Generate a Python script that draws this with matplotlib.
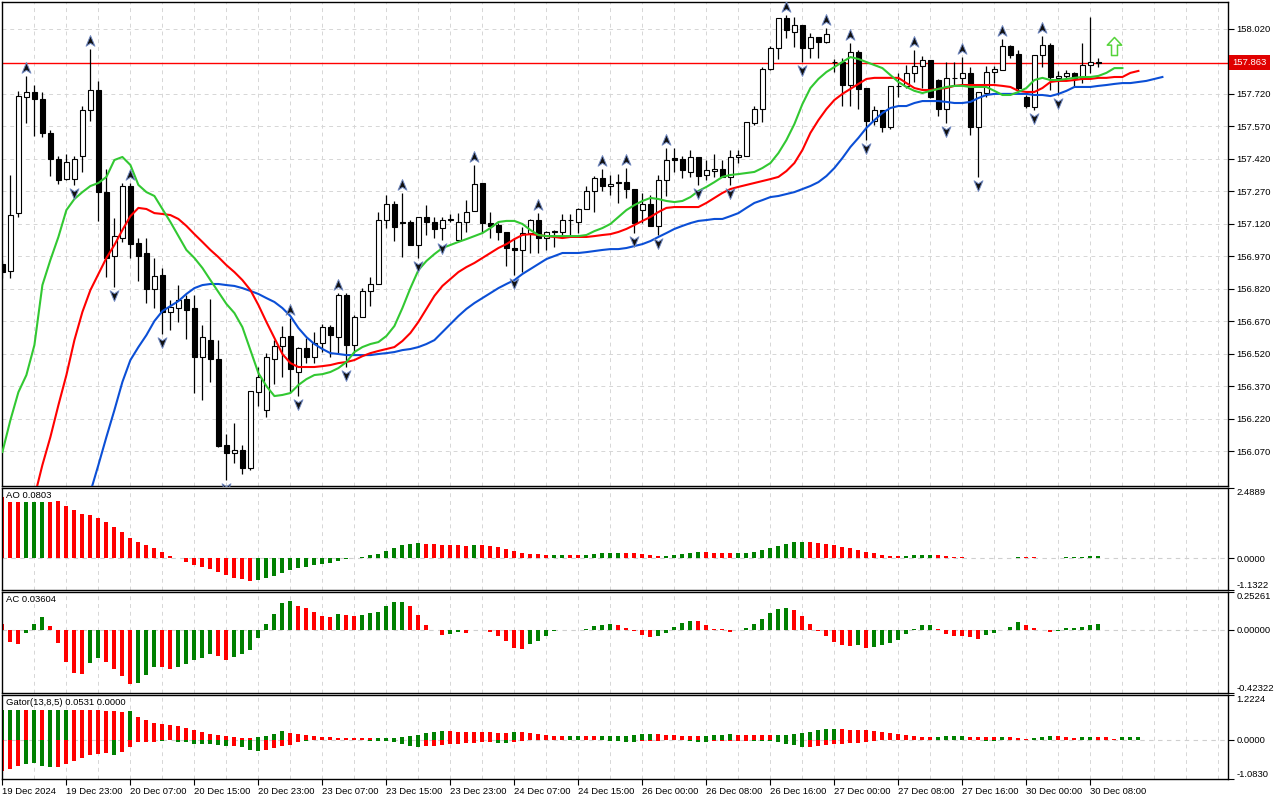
import numpy as np
import matplotlib
matplotlib.use("Agg")
import matplotlib.pyplot as plt
from matplotlib.path import Path
from matplotlib.transforms import blended_transform_factory

plt.rcParams['font.family'] = ['Liberation Sans', 'DejaVu Sans']

# ---------------- data (USDJPY H1) ----------------
opens = [156.934, 156.902, 157.169, 157.705, 157.728, 157.696, 157.539, 157.419, 157.326, 157.326,
         157.433, 157.645, 157.737, 157.266, 156.971, 157.054, 157.294, 157.031, 156.985, 156.819,
         156.883, 156.713, 156.731, 156.773, 156.731, 156.505, 156.583, 156.496, 156.099, 156.062,
         156.076, 155.993, 156.343, 156.260, 156.496, 156.556, 156.602, 156.436, 156.547, 156.505,
         156.570, 156.643, 156.597, 156.791, 156.560, 156.690, 156.810, 156.842, 157.137, 157.211,
         157.128, 157.128, 157.022, 157.151, 157.128, 157.100, 157.137, 157.045, 157.128, 157.179,
         157.308, 157.123, 157.114, 157.082, 157.008, 156.999, 157.077, 157.137, 157.054, 157.082,
         157.082, 157.137, 157.128, 157.188, 157.271, 157.331, 157.294, 157.308, 157.312, 157.280,
         157.183, 157.211, 157.110, 157.322, 157.423, 157.419, 157.359, 157.428, 157.345, 157.363,
         157.373, 157.336, 157.428, 157.433, 157.585, 157.649, 157.834, 157.931, 158.069, 158.005,
         158.037, 157.931, 157.982, 157.959, 157.866, 157.866, 157.760, 157.912, 157.746, 157.594,
         157.645, 157.566, 157.756, 157.756, 157.816, 157.848, 157.876, 157.783, 157.649, 157.793,
         157.793, 157.816, 157.566, 157.723, 157.820, 157.829, 157.940, 157.903, 157.705, 157.659,
         157.899, 157.945, 157.793, 157.802, 157.816, 157.793, 157.852, 157.866]
highs = [156.953, 157.345, 157.733, 157.802, 157.760, 157.728, 157.553, 157.433, 157.442, 157.433,
         157.663, 157.926, 157.779, 157.373, 157.146, 157.308, 157.308, 157.054, 157.054, 156.962,
         156.916, 156.768, 156.837, 156.791, 156.791, 156.653, 156.773, 156.583, 156.150, 156.200,
         156.099, 156.348, 156.459, 156.523, 156.583, 156.648, 156.685, 156.551, 156.593, 156.620,
         156.657, 156.653, 156.800, 156.800, 156.699, 156.823, 156.874, 157.174, 157.252, 157.225,
         157.262, 157.137, 157.151, 157.206, 157.151, 157.151, 157.165, 157.169, 157.229, 157.391,
         157.308, 157.174, 157.123, 157.082, 157.054, 157.105, 157.142, 157.169, 157.086, 157.091,
         157.165, 157.165, 157.193, 157.294, 157.340, 157.373, 157.345, 157.349, 157.377, 157.280,
         157.262, 157.252, 157.345, 157.469, 157.469, 157.433, 157.460, 157.428, 157.414, 157.442,
         157.414, 157.460, 157.460, 157.589, 157.663, 157.843, 157.940, 158.069, 158.083, 158.074,
         158.037, 158.000, 157.982, 158.023, 157.880, 157.885, 157.954, 157.922, 157.746, 157.663,
         157.645, 157.756, 157.816, 157.852, 157.922, 157.894, 157.876, 157.788, 157.866, 157.866,
         157.889, 157.843, 157.728, 157.848, 157.848, 157.972, 157.945, 157.922, 157.714, 157.899,
         157.986, 157.954, 157.825, 157.829, 157.820, 157.954, 158.074, 157.885]
lows = [156.870, 156.870, 157.151, 157.585, 157.525, 157.520, 157.340, 157.303, 157.322, 157.299,
        157.359, 157.594, 157.133, 156.874, 156.828, 157.036, 156.962, 156.856, 156.754, 156.731,
        156.611, 156.630, 156.667, 156.588, 156.339, 156.307, 156.390, 156.090, 155.937, 156.016,
        155.965, 155.983, 156.279, 156.228, 156.380, 156.413, 156.343, 156.325, 156.477, 156.477,
        156.528, 156.505, 156.523, 156.459, 156.523, 156.690, 156.740, 156.842, 157.100, 157.040,
        156.966, 157.022, 156.962, 157.068, 157.054, 157.045, 157.128, 157.045, 157.082, 157.179,
        157.077, 157.054, 157.045, 156.925, 156.883, 156.897, 156.985, 156.985, 156.999, 157.013,
        157.063, 157.059, 157.077, 157.188, 157.174, 157.271, 157.252, 157.216, 157.239, 157.077,
        157.123, 157.110, 157.068, 157.248, 157.359, 157.331, 157.336, 157.299, 157.322, 157.336,
        157.336, 157.299, 157.400, 157.433, 157.576, 157.589, 157.829, 157.880, 157.977, 157.936,
        157.866, 157.885, 157.885, 157.954, 157.820, 157.663, 157.663, 157.649, 157.506, 157.576,
        157.543, 157.557, 157.705, 157.746, 157.774, 157.746, 157.700, 157.617, 157.585, 157.760,
        157.760, 157.529, 157.336, 157.705, 157.769, 157.829, 157.885, 157.728, 157.654, 157.645,
        157.843, 157.737, 157.714, 157.793, 157.751, 157.769, 157.816, 157.843]
closes = [156.897, 157.160, 157.709, 157.728, 157.696, 157.539, 157.419, 157.322, 157.405, 157.419,
          157.645, 157.737, 157.266, 156.962, 157.063, 157.294, 157.026, 156.971, 156.819, 156.879,
          156.713, 156.736, 156.768, 156.722, 156.505, 156.597, 156.496, 156.094, 156.062, 156.076,
          155.993, 156.348, 156.413, 156.505, 156.556, 156.597, 156.450, 156.547, 156.505, 156.570,
          156.643, 156.606, 156.791, 156.560, 156.690, 156.810, 156.842, 157.137, 157.211, 157.105,
          157.123, 157.022, 157.151, 157.128, 157.096, 157.137, 157.142, 157.128, 157.174, 157.303,
          157.123, 157.110, 157.082, 157.008, 156.999, 157.077, 157.137, 157.054, 157.082, 157.086,
          157.137, 157.137, 157.188, 157.271, 157.331, 157.294, 157.303, 157.312, 157.280, 157.123,
          157.211, 157.110, 157.322, 157.414, 157.414, 157.368, 157.428, 157.340, 157.368, 157.373,
          157.336, 157.428, 157.437, 157.589, 157.649, 157.834, 157.931, 158.069, 158.014, 158.037,
          157.931, 157.982, 157.959, 157.996, 157.866, 157.760, 157.912, 157.742, 157.594, 157.645,
          157.566, 157.756, 157.757, 157.816, 157.848, 157.876, 157.705, 157.649, 157.793, 157.793,
          157.816, 157.566, 157.728, 157.820, 157.834, 157.940, 157.899, 157.746, 157.663, 157.899,
          157.945, 157.797, 157.802, 157.816, 157.793, 157.852, 157.866, 157.863]

# Alligator lines (already shifted forward), first bar index of each
lips_start = 0
lips = [156.067, 156.214, 156.343, 156.422, 156.560, 156.837, 156.953, 157.059, 157.183, 157.234,
        157.266, 157.294, 157.308, 157.336, 157.414, 157.428, 157.391, 157.299, 157.266, 157.248,
        157.188, 157.128, 157.063, 156.999, 156.962, 156.916, 156.860, 156.805, 156.750, 156.708,
        156.643, 156.537, 156.431, 156.371, 156.325, 156.330, 156.339, 156.376, 156.403, 156.422,
        156.426, 156.436, 156.454, 156.482, 156.528, 156.551, 156.565, 156.574, 156.602, 156.648,
        156.731, 156.823, 156.906, 156.948, 156.980, 157.008, 157.022, 157.036, 157.049, 157.063,
        157.077, 157.100, 157.128, 157.133, 157.133, 157.119, 157.091, 157.068, 157.063, 157.063,
        157.063, 157.063, 157.063, 157.068, 157.086, 157.100, 157.119, 157.151, 157.183, 157.206,
        157.225, 157.239, 157.234, 157.225, 157.220, 157.225, 157.243, 157.271, 157.290, 157.312,
        157.336, 157.345, 157.349, 157.354, 157.359, 157.377, 157.400, 157.446, 157.506, 157.580,
        157.672, 157.746, 157.788, 157.820, 157.843, 157.866, 157.889, 157.880, 157.866, 157.852,
        157.838, 157.806, 157.774, 157.751, 157.733, 157.723, 157.733, 157.742, 157.751, 157.756,
        157.756, 157.751, 157.751, 157.751, 157.733, 157.714, 157.714, 157.728, 157.746, 157.783,
        157.793, 157.783, 157.783, 157.788, 157.793, 157.797, 157.797, 157.802, 157.816, 157.838,
        157.838]
teeth_start = 4
teeth = [155.859, 156.007, 156.136, 156.283, 156.422, 156.583, 156.713, 156.814, 156.888, 156.962,
         157.022, 157.091, 157.155, 157.193, 157.188, 157.169, 157.165, 157.160, 157.142, 157.110,
         157.072, 157.036, 156.999, 156.966, 156.929, 156.897, 156.860, 156.814, 156.745, 156.667,
         156.593, 156.519, 156.477, 156.459, 156.459, 156.459, 156.463, 156.468, 156.477, 156.482,
         156.491, 156.509, 156.523, 156.533, 156.542, 156.551, 156.579, 156.616, 156.667, 156.727,
         156.787, 156.833, 156.865, 156.897, 156.920, 156.939, 156.962, 156.985, 157.008, 157.026,
         157.049, 157.068, 157.072, 157.068, 157.063, 157.059, 157.054, 157.059, 157.059, 157.059,
         157.063, 157.068, 157.072, 157.082, 157.096, 157.114, 157.133, 157.151, 157.174, 157.193,
         157.197, 157.197, 157.197, 157.197, 157.216, 157.239, 157.262, 157.280, 157.290, 157.299,
         157.308, 157.317, 157.326, 157.336, 157.363, 157.400, 157.460, 157.539, 157.598, 157.649,
         157.691, 157.719, 157.742, 157.765, 157.788, 157.793, 157.793, 157.793, 157.793, 157.769,
         157.746, 157.737, 157.737, 157.742, 157.746, 157.756, 157.760, 157.760, 157.760, 157.760,
         157.760, 157.756, 157.751, 157.733, 157.728, 157.728, 157.746, 157.774, 157.779, 157.779,
         157.783, 157.788, 157.788, 157.793, 157.793, 157.797, 157.797, 157.816, 157.825]
jaw_start = 11
jaw = [155.882, 156.007, 156.136, 156.260, 156.390, 156.491, 156.551, 156.606, 156.671, 156.717,
       156.740, 156.763, 156.796, 156.823, 156.837, 156.842, 156.842, 156.837, 156.833, 156.823,
       156.810, 156.796, 156.777, 156.759, 156.731, 156.694, 156.639, 156.597, 156.565, 156.542,
       156.523, 156.519, 156.514, 156.514, 156.514, 156.514, 156.519, 156.523, 156.528, 156.537,
       156.542, 156.551, 156.565, 156.583, 156.620, 156.657, 156.694, 156.727, 156.754, 156.777,
       156.800, 156.823, 156.842, 156.860, 156.888, 156.911, 156.934, 156.957, 156.971, 156.985,
       156.985, 156.985, 156.989, 156.994, 156.999, 157.003, 157.003, 157.008, 157.017, 157.026,
       157.040, 157.059, 157.077, 157.096, 157.110, 157.123, 157.133, 157.137, 157.142, 157.142,
       157.155, 157.169, 157.193, 157.216, 157.229, 157.243, 157.248, 157.257, 157.266, 157.280,
       157.294, 157.312, 157.340, 157.377, 157.423, 157.474, 157.516, 157.562, 157.598, 157.631,
       157.654, 157.663, 157.663, 157.677, 157.686, 157.686, 157.686, 157.682, 157.677, 157.677,
       157.682, 157.700, 157.714, 157.719, 157.719, 157.719, 157.719, 157.719, 157.714, 157.714,
       157.709, 157.719, 157.733, 157.751, 157.751, 157.751, 157.756, 157.760, 157.765, 157.769,
       157.769, 157.774, 157.779, 157.788, 157.797]

up_fractals = [3, 11, 16, 36, 42, 50, 59, 67, 75, 78, 83, 98, 103, 106, 114, 120, 125, 130]
down_fractals = [9, 14, 20, 28, 37, 43, 52, 55, 64, 79, 82, 87, 91, 100, 108, 118, 122, 129, 132]
buy_bar, buy_price = 139, 157.94
last_price = 157.863

ao = [2.153, 1.987, 1.980, 1.985, 1.990, 1.995, 1.990, 2.035, 1.857, 1.704,
      1.562, 1.538, 1.420, 1.289, 1.100, 0.935, 0.710, 0.556, 0.461, 0.355,
      0.213, 0.071, 0.012, -0.142, -0.248, -0.319, -0.390, -0.485, -0.615, -0.710,
      -0.745, -0.804, -0.769, -0.710, -0.627, -0.532, -0.414, -0.355, -0.308, -0.248,
      -0.213, -0.166, -0.095, -0.047, -0.012, 0.024, 0.106, 0.142, 0.248, 0.355,
      0.461, 0.497, 0.532, 0.497, 0.495, 0.461, 0.460, 0.459, 0.426, 0.461,
      0.458, 0.426, 0.390, 0.319, 0.248, 0.177, 0.142, 0.140, 0.106, 0.108,
      0.110, 0.105, 0.103, 0.106, 0.142, 0.177, 0.178, 0.180, 0.177, 0.175,
      0.142, 0.106, 0.071, 0.073, 0.106, 0.142, 0.177, 0.213, 0.210, 0.177,
      0.176, 0.175, 0.177, 0.179, 0.213, 0.284, 0.355, 0.426, 0.497, 0.568,
      0.570, 0.566, 0.532, 0.497, 0.461, 0.390, 0.355, 0.284, 0.213, 0.177,
      0.106, 0.071, 0.069, 0.072, 0.106, 0.108, 0.110, 0.105, 0.071, 0.035,
      0.033, 0.012, -0.005, 0.012, -0.012, 0.012, 0.014, 0.035, 0.033, 0.030,
      0.012, -0.010, -0.012, 0.035, 0.037, 0.040, 0.071, 0.080]
ao_colors = ("rrrgggrrrr" "rrrrrrrrrr" "rrrrrrrrrr" "rrgggggggg" "gggggggggg" "gggrrrrrrg"
             "rrrrrrrrrg" "grrgggggrr" "rrrgggggrr" "rrgggggggg" "grrrrrrrrr" "rrrggggrrr"
             "rrrgrgggrr" "rrrggggg")

ac = [0.036, -0.080, -0.098, -0.024, 0.040, 0.087, 0.027, -0.091, -0.214, -0.287,
      -0.294, -0.220, -0.187, -0.214, -0.261, -0.310, -0.361, -0.354, -0.301, -0.247,
      -0.249, -0.261, -0.247, -0.227, -0.200, -0.187, -0.160, -0.174, -0.200, -0.180,
      -0.160, -0.134, -0.053, 0.040, 0.107, 0.180, 0.194, 0.160, 0.147, 0.120,
      0.094, 0.087, 0.107, 0.100, 0.094, 0.100, 0.114, 0.120, 0.160, 0.187,
      0.187, 0.160, 0.100, 0.033, -0.004, -0.033, -0.027, -0.018, -0.020, -0.004,
      -0.003, -0.018, -0.040, -0.073, -0.120, -0.127, -0.098, -0.073, -0.040, -0.009,
      -0.002, -0.004, 0.001, 0.007, 0.027, 0.033, 0.040, 0.033, 0.013, -0.007,
      -0.038, -0.051, -0.045, -0.024, 0.020, 0.047, 0.060, 0.059, 0.033, 0.004,
      0.002, -0.018, -0.004, 0.011, 0.040, 0.073, 0.114, 0.140, 0.147, 0.134,
      0.094, 0.040, -0.009, -0.045, -0.080, -0.100, -0.107, -0.100, -0.120, -0.114,
      -0.100, -0.087, -0.067, -0.027, 0.004, 0.033, 0.034, 0.004, -0.027, -0.040,
      -0.041, -0.047, -0.060, -0.033, -0.020, -0.004, 0.020, 0.053, 0.033, 0.013,
      -0.004, -0.013, -0.007, 0.013, 0.014, 0.020, 0.033, 0.036]
ac_colors = ("rrrgggrrrr" "rggrrrrggg" "rrgggggrrg" "gggggggrrr" "rrgrrggggg" "grrrrrggrg"
             "grrrrrgggg" "grgggggrrr" "rrgggggrrr" "rrgggggggr" "rrrrrrrgrg" "gggggggrrr"
             "rrrgggggrr" "rrgggggg")

gator_up = [0.822, 0.822, 0.822, 0.822, 0.822, 0.822, 0.822, 0.822, 0.822, 0.822,
            0.822, 0.822, 0.822, 0.794, 0.776, 0.749, 0.776, 0.630, 0.548, 0.466,
            0.438, 0.411, 0.365, 0.320, 0.274, 0.210, 0.164, 0.137, 0.091, 0.073,
            0.037, 0.037, 0.064, 0.110, 0.164, 0.228, 0.183, 0.155, 0.128, 0.110,
            0.082, 0.064, 0.055, 0.055, 0.046, 0.037, 0.030, 0.035, 0.040, 0.046,
            0.064, 0.110, 0.137, 0.183, 0.210, 0.237, 0.235, 0.210, 0.208, 0.207,
            0.206, 0.205, 0.183, 0.180, 0.210, 0.201, 0.174, 0.146, 0.119, 0.100,
            0.098, 0.100, 0.102, 0.100, 0.098, 0.100, 0.102, 0.104, 0.110, 0.128,
            0.155, 0.157, 0.146, 0.128, 0.126, 0.100, 0.098, 0.096, 0.110, 0.128,
            0.130, 0.155, 0.128, 0.122, 0.118, 0.117, 0.116, 0.118, 0.137, 0.155,
            0.183, 0.210, 0.256, 0.292, 0.294, 0.290, 0.265, 0.263, 0.256, 0.228,
            0.210, 0.174, 0.146, 0.119, 0.100, 0.073, 0.064, 0.073, 0.100, 0.102,
            0.104, 0.082, 0.064, 0.062, 0.060, 0.064, 0.062, 0.037, 0.027, 0.037,
            0.064, 0.091, 0.089, 0.064, 0.046, 0.064, 0.066, 0.064, 0.062, 0.027,
            0.064, 0.066, 0.068]
gator_up_colors = ("gggrgrgggr" "rrrrrrgrrr" "rrrrrrrrrr" "rrggggrrrr" "rrrrrrrggg" "ggggggrrrr"
                   "rrrrgrrrrr" "rggrrggggg" "ggrrrrrrgg" "ggrrrrrggg" "gggggrrrrr" "rrrrrrrggg"
                   "grrrrgrrrg" "ggrrrggrrr" "ggg")
gator_dn = [-0.867, -0.822, -0.730, -0.685, -0.657, -0.730, -0.758, -0.758, -0.685, -0.593,
            -0.502, -0.438, -0.393, -0.374, -0.411, -0.338, -0.192, -0.073, -0.073, -0.073,
            -0.027, -0.018, -0.055, -0.055, -0.110, -0.110, -0.110, -0.137, -0.164, -0.164,
            -0.192, -0.274, -0.301, -0.283, -0.228, -0.164, -0.137, -0.073, -0.027, -0.018,
            -0.018, -0.012, -0.015, -0.010, -0.008, -0.015, -0.030, -0.037, -0.046, -0.064,
            -0.119, -0.174, -0.210, -0.183, -0.174, -0.146, -0.119, -0.117, -0.091, -0.089,
            -0.064, -0.062, -0.091, -0.093, -0.064, -0.027, -0.009, -0.018, -0.020, -0.009,
            -0.008, -0.009, -0.010, -0.009, -0.018, -0.020, -0.027, -0.037, -0.064, -0.066,
            -0.037, -0.035, -0.027, -0.018, -0.009, -0.018, -0.030, -0.064, -0.066, -0.037,
            -0.035, -0.033, -0.035, -0.027, -0.027, -0.037, -0.039, -0.064, -0.119, -0.146,
            -0.201, -0.199, -0.174, -0.146, -0.119, -0.117, -0.091, -0.089, -0.064, -0.027,
            -0.018, -0.009, -0.005, -0.012, -0.018, -0.020, -0.014, -0.009, -0.012, -0.015,
            -0.010, -0.006, -0.012, -0.027, -0.030, -0.020, -0.012, -0.008, -0.015, -0.024,
            -0.018, -0.010, -0.006, -0.012, -0.015, -0.010, -0.008, -0.012, -0.010, -0.006,
            -0.004]
gator_dn_colors = ("rrrggggrrr" "rrrrgrrrrr" "gggggggggr" "gggrrrrrgr" "rggrrggggg" "gggrrrrrrr"
                   "rrggrrrggr" "rggrgggggg" "rrrrrrgggr" "rrrrgggggg" "grrrrrrrrr" "rrrgggrrgg"
                   "rrgggrrrgg" "rrrggrrgrrr")

time_labels = ["19 Dec 2024", "19 Dec 23:00", "20 Dec 07:00", "20 Dec 15:00", "20 Dec 23:00",
               "23 Dec 07:00", "23 Dec 15:00", "23 Dec 23:00", "24 Dec 07:00", "24 Dec 15:00",
               "26 Dec 00:00", "26 Dec 08:00", "26 Dec 16:00", "27 Dec 00:00", "27 Dec 08:00",
               "27 Dec 16:00", "30 Dec 00:00", "30 Dec 08:00"]
bars_per_label = 8
price_ticks = [156.070, 156.220, 156.370, 156.520, 156.670, 156.820, 156.970,
               157.120, 157.270, 157.420, 157.570, 157.720, 158.020]
price_range = (155.910, 158.143)
ao_range = (-1.1322, 2.4889)
ac_range = (-0.42322, 0.25261)
gator_range = (-1.0830, 1.2224)

# ---------------- figure ----------------
W, H = 1280, 800
fig = plt.figure(figsize=(W / 100, H / 100), dpi=100)
fig.patch.set_facecolor('white')


def panel(top, bottom, left=2, right=1228):
    return fig.add_axes([left / W, 1 - bottom / H, (right - left) / W, (bottom - top) / H])


ax = panel(2, 486)
ax_ao = panel(488, 590)
ax_ac = panel(592, 693)
ax_g = panel(695, 779)
axes = [ax, ax_ao, ax_ac, ax_g]

COL = {'g': '#008000', 'r': '#ff0000'}
GRID = dict(color='#d6d6d6', linestyle=(0, (4, 4)), linewidth=0.7)
XLIM = (-0.05, 153.2)
FS = 6.8

n = len(opens)
x = np.arange(n)
o, h, l, c = map(np.array, (opens, highs, lows, closes))

for a in axes:
    a.set_xlim(*XLIM)
    a.set_facecolor('white')
    for s in a.spines.values():
        s.set_color('black')
        s.set_linewidth(1.0)
    a.set_xticks(np.arange(0, 154, 4), minor=True)
    a.grid(axis='x', which='both', **GRID)
    a.set_axisbelow(True)
    a.yaxis.tick_right()
    a.tick_params(axis='y', direction='out', length=4, width=0.8, pad=2, labelsize=FS)
    a.tick_params(axis='x', which='minor', length=0)

for a in [ax, ax_ao, ax_ac]:
    a.set_xticks([])
    a.tick_params(axis='x', which='both', length=0, labelbottom=False)

# ---- main price panel ----
ax.set_ylim(*price_range)
ax.set_yticks(price_ticks)
ax.set_yticklabels(['%.3f' % p for p in price_ticks])
ax.grid(axis='y', **GRID)

ax.axhline(last_price, color='#ff0000', lw=1.0, zorder=1.5)

bull = c >= o
ax.vlines(x, l, h, color='black', lw=0.9, zorder=2)
ax.bar(x, np.abs(c - o), bottom=np.minimum(o, c), width=0.62,
       color=np.where(bull, 'white', 'black'), edgecolor='black', linewidth=0.8, zorder=3)

ax.plot(np.arange(jaw_start, jaw_start + len(jaw)), jaw, color='#0b4fd6', lw=1.5, zorder=4)
ax.plot(np.arange(teeth_start, teeth_start + len(teeth)), teeth, color='#ff0000', lw=1.5, zorder=4)
ax.plot(np.arange(lips_start, lips_start + len(lips)), lips, color='#32c832', lw=1.5, zorder=4)

up_mark = Path([(0, 1), (0.75, -0.8), (0, -0.3), (-0.75, -0.8), (0, 1)],
               [Path.MOVETO, Path.LINETO, Path.LINETO, Path.LINETO, Path.CLOSEPOLY])
dn_mark = Path([(0, -1), (0.75, 0.8), (0, 0.3), (-0.75, 0.8), (0, -1)],
               [Path.MOVETO, Path.LINETO, Path.LINETO, Path.LINETO, Path.CLOSEPOLY])
gap = 0.036
uf = np.array(up_fractals)
df = np.array(down_fractals)
ax.plot(uf, h[uf] + gap, ls='none', marker=up_mark, ms=8.5, mfc='#101010', mec='#7088c0',
        mew=0.7, zorder=6)
ax.plot(df, l[df] - gap, ls='none', marker=dn_mark, ms=8.5, mfc='#101010', mec='#7088c0',
        mew=0.7, zorder=6)

arrow = Path([(0, 1), (0.8, 0.15), (0.33, 0.15), (0.33, -1), (-0.33, -1), (-0.33, 0.15),
              (-0.8, 0.15), (0, 1)],
             [Path.MOVETO] + [Path.LINETO] * 6 + [Path.CLOSEPOLY])
ax.plot([buy_bar], [buy_price], ls='none', marker=arrow, ms=13, mfc='white', mec='#55d33a',
        mew=1.1, zorder=6)

tr = blended_transform_factory(ax.transAxes, ax.transData)
ax.text(1 + 4 / 1226, last_price, '157.863', transform=tr, ha='left', va='center',
        fontsize=FS, color='white',
        bbox=dict(boxstyle='square,pad=0.35', fc='#e00000', ec='none'), zorder=10, clip_on=False)

# ---- indicator panels ----
ax_ao.bar(x, ao, width=0.5, color=[COL[k] for k in ao_colors], linewidth=0, zorder=2)
ax_ac.bar(x, ac, width=0.5, color=[COL[k] for k in ac_colors], linewidth=0, zorder=2)
ax_g.bar(np.arange(len(gator_up)), gator_up, width=0.5,
         color=[COL[k] for k in gator_up_colors], linewidth=0, zorder=2)
ax_g.bar(np.arange(len(gator_dn)), gator_dn, width=0.5,
         color=[COL[k] for k in gator_dn_colors], linewidth=0, zorder=2)

for a, rng, fmt, name in [(ax_ao, ao_range, '%.4f', 'AO 0.0803'),
                          (ax_ac, ac_range, '%.5f', 'AC 0.03604'),
                          (ax_g, gator_range, '%.4f', 'Gator(13,8,5) 0.0531 0.0000')]:
    lo, hi = rng
    a.set_ylim(lo, hi)
    a.axhline(0, color='#cfcfcf', linestyle=(0, (4, 4)), lw=0.8, zorder=1)
    a.set_yticks([lo, 0, hi])
    a.set_yticklabels([fmt % lo, fmt % 0, fmt % hi])
    labs = a.get_yticklabels()
    labs[0].set_va('bottom')
    labs[2].set_va('top')
    a.annotate(name, xy=(0, 1), xycoords='axes fraction', xytext=(4, -3),
               textcoords='offset pixels', ha='left', va='top', fontsize=FS, zorder=10)

# ---- time axis ----
ax_g.set_xticks(np.arange(len(time_labels)) * bars_per_label)
ax_g.set_xticklabels(time_labels)
ax_g.tick_params(axis='x', which='major', direction='out', length=4, width=0.8, pad=1.5,
                 labelsize=FS)
for t in ax_g.get_xticklabels():
    t.set_ha('left')

fig.savefig('out.png', dpi=100)
